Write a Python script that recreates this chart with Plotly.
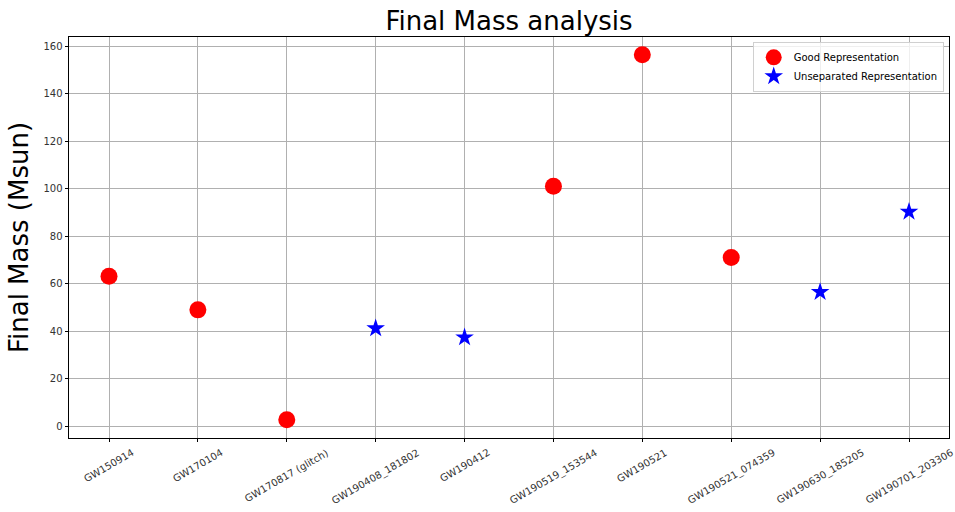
import plotly.graph_objects as go

# Gravitational-wave events and their final (remnant) masses in solar masses
events = [
    "GW150914", "GW170104", "GW170817 (glitch)", "GW190408_181802", "GW190412",
    "GW190519_153544", "GW190521", "GW190521_074359", "GW190630_185205", "GW190701_203306",
]

good_events = ["GW150914", "GW170104", "GW170817 (glitch)", "GW190519_153544",
               "GW190521", "GW190521_074359"]
good_mass = [63.1, 48.9, 2.6, 101.0, 156.3, 71.0]

unsep_events = ["GW190408_181802", "GW190412", "GW190630_185205", "GW190701_203306"]
unsep_mass = [41.1, 37.3, 56.4, 90.2]

y_ticks = [0, 20, 40, 60, 80, 100, 120, 140, 160]

FONT = "DejaVu Sans"

fig = go.Figure()
fig.add_trace(go.Scatter(
    x=good_events, y=good_mass, mode="markers", name="Good Representation",
    marker=dict(symbol="circle", size=17, color="#ff0000", line=dict(width=0)),
))
fig.add_trace(go.Scatter(
    x=unsep_events, y=unsep_mass, mode="markers", name="Unseparated Representation",
    marker=dict(symbol="star", size=14, color="#0000ff", line=dict(width=0)),
))

# Rotated category labels, centred under each tick
for ev in events:
    fig.add_annotation(
        x=ev, y=0, xref="x", yref="paper", text=ev, showarrow=False,
        textangle=-30, xanchor="center", yanchor="top", yshift=-6,
        font=dict(family=FONT, size=10, color="#333333"),
    )

fig.update_layout(
    width=955, height=512,
    margin=dict(l=69, r=6, t=37, b=74),
    paper_bgcolor="white", plot_bgcolor="white",
    font=dict(family=FONT, size=10, color="#333333"),
    title=dict(text="Final Mass analysis", x=(69 + 880 / 2) / 955, xanchor="center",
               y=1 - 21 / 512, yanchor="middle",
               font=dict(family=FONT, size=26, color="#000000")),
    showlegend=True,
    legend=dict(
        x=0.994, y=0.988, xanchor="right", yanchor="top",
        bgcolor="rgba(255,255,255,0.8)", bordercolor="#d0d0d0", borderwidth=1,
        font=dict(family=FONT, size=10, color="#000000"),
        tracegroupgap=0, itemsizing="trace",
    ),
    xaxis=dict(
        type="category", categoryorder="array", categoryarray=events,
        range=[-0.45, 9.45], showticklabels=False,
        showgrid=True, gridcolor="#b0b0b0", gridwidth=0.8,
        ticks="outside", ticklen=3.5, tickcolor="#000000", tickwidth=0.8,
        showline=True, linecolor="#000000", linewidth=0.8, mirror=True,
        zeroline=False,
    ),
    yaxis=dict(
        range=[-5.05, 163.8], tickvals=y_ticks,
        showgrid=True, gridcolor="#b0b0b0", gridwidth=0.8,
        ticks="outside", ticklen=3.5, tickcolor="#000000", tickwidth=0.8,
        showline=True, linecolor="#000000", linewidth=0.8, mirror=True,
        zeroline=False,
        title=dict(text="Final Mass (Msun)", standoff=7,
                   font=dict(family=FONT, size=26, color="#000000")),
    ),
)

fig.write_html("out.html")
